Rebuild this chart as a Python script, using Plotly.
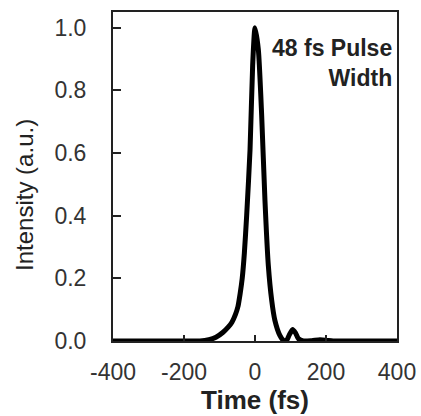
import plotly.graph_objects as go

time_fs = [-400, -300, -200, -155, -130, -110, -90, -75, -65, -55, -48, -42, -36, -30, -23.5, -14, -6.6, 0,
           9.4, 18.8, 28, 37.6, 47, 56, 70, 80, 88, 96, 106, 114, 122, 136, 160, 183, 202, 220, 300, 400]
intensity = [0.0, 0.0, 0.0, 0.0, 0.004, 0.012, 0.028, 0.045, 0.06, 0.085, 0.11, 0.15, 0.2, 0.28, 0.40, 0.61, 0.88, 1.0,
             0.93, 0.72, 0.45, 0.24, 0.13, 0.066, 0.018, 0.002, 0.0, 0.018, 0.037, 0.026, 0.008, 0.0, 0.001, 0.004, 0.002, 0.0, 0.0, 0.0]

x_ticks = [-400, -200, 0, 200, 400]
x_tick_labels = ["-400", "-200", "0", "200", "400"]
y_ticks = [0.0, 0.2, 0.4, 0.6, 0.8, 1.0]
y_tick_labels = ["0.0", "0.2", "0.4", "0.6", "0.8", "1.0"]

fig = go.Figure()
fig.add_trace(go.Scatter(x=time_fs, y=intensity, mode="lines",
                         line=dict(color="black", width=5, shape="spline", smoothing=0.6),
                         showlegend=False))

font_family = "Liberation Sans, Arial, sans-serif"
L, R, T, B, W, H = 113, 24, 12, 75, 421, 416
fig.update_layout(
    width=W, height=H,
    margin=dict(l=L, r=R, t=T, b=B),
    paper_bgcolor="white", plot_bgcolor="white",
    font=dict(family=font_family, color="#222"),
    xaxis=dict(range=[-400, 400], tickvals=x_ticks, ticktext=x_tick_labels, ticks="inside", ticklen=6,
               tickwidth=1.5, tickcolor="#222", showgrid=False, zeroline=False, showline=True,
               linecolor="#222", linewidth=2, mirror=True, tickfont=dict(size=23, color="#333"),
               ticklabelstandoff=9, automargin=False,
               title=dict(text="<b>Time (fs)</b>", font=dict(size=26, color="#222"), standoff=4)),
    yaxis=dict(range=[0, 1.05], tickvals=y_ticks, ticktext=y_tick_labels, ticks="inside", ticklen=8,
               tickwidth=1.5, tickcolor="#222", showgrid=False, zeroline=False, showline=True,
               linecolor="#222", linewidth=2, mirror=True, tickfont=dict(size=23, color="#333"),
               ticklabelstandoff=20, automargin=False),
    annotations=[
        dict(x=1.0, y=0.935, xref="paper", yref="paper", xanchor="right", yanchor="top",
             xshift=-3, align="right", showarrow=False, text="<b>48 fs Pulse<br>Width</b>",
             font=dict(size=23, color="#222")),
        dict(x=(25 - L) / (W - L - R), y=0.444, xref="paper", yref="paper", xanchor="center",
             yanchor="middle", showarrow=False, textangle=-90,
             text="Intensity (a.u.)", font=dict(size=24, color="#222")),
    ]
)

fig.write_html("out.html", config={"displayModeBar": False},
               post_script="document.body.style.margin='0';")
